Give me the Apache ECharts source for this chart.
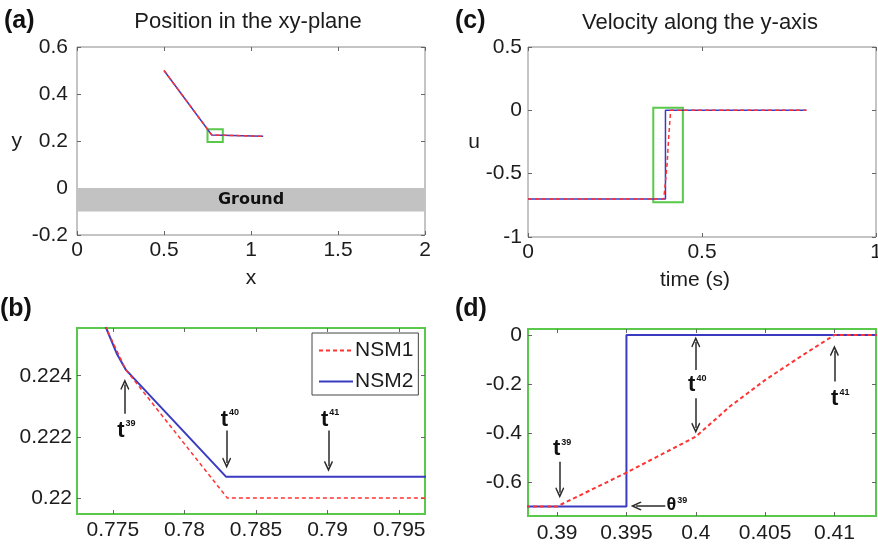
<!DOCTYPE html>
<html>
<head>
<meta charset="utf-8">
<script src="https://cdn.jsdelivr.net/npm/echarts@6/dist/echarts.min.js"></script>
<style>
  html, body { margin: 0; padding: 0; background: #fff; }
  #chart { width: 878px; height: 545px; }
</style>
</head>
<body>
<div id="chart"></div>
<script>
  // position in the xy-plane, panels (a) and (b)
  const posX_NSM1 = [0.5, 0.7745, 0.7759, 0.7830, 1.07];
  const posY_NSM1 = [0.5, 0.2256, 0.2242, 0.2200, 0.2200];
  const posX_NSM2 = [0.5, 0.7745, 0.7753, 0.7759, 0.7829, 1.07];
  const posY_NSM2 = [0.5, 0.2256, 0.2247, 0.2242, 0.2207, 0.2207];

  // velocity along the y-axis, panels (c) and (d)
  const velT_NSM1 = [0, 0.39, 0.395, 0.4, 0.4025, 0.405, 0.4075, 0.41, 0.8];
  const velU_NSM1 = [-0.7, -0.7, -0.562, -0.415, -0.29, -0.184, -0.09, 0, 0];
  const velT_NSM2 = [0, 0.395, 0.395, 0.8];
  const velU_NSM2 = [-0.7, -0.7, 0, 0];

  // tick labels
  const ticksAx = [0, 0.5, 1, 1.5, 2];
  const ticksAy = [-0.2, 0, 0.2, 0.4, 0.6];
  const ticksBx = [0.775, 0.78, 0.785, 0.79, 0.795];
  const ticksBy = [0.22, 0.222, 0.224];
  const ticksCx = [0, 0.5, 1];
  const ticksCy = [-1, -0.5, 0, 0.5];
  const ticksDx = [0.39, 0.395, 0.4, 0.405, 0.41];
  const ticksDy = [-0.6, -0.4, -0.2, 0];

  const FONT = 'Liberation Sans, Arial, sans-serif';
  const GRAY = '#8a8a8a';
  const GREEN = '#5ac84a';
  const RED = '#ff3333';
  const BLUE = '#3b3bc2';
  const INK = '#1c1c1c';
  const ARROW = 'path://M5,0 L10,9 L8.9,10 L5,3.4 L1.1,10 L0,9 Z';

  const pts = (xs, ys) => xs.map((x, i) => [x, ys[i]]);

  function axis(gridIndex, position, min, max, ticks, margin) {
    return {
      type: 'value', gridIndex, position, min, max,
      axisLine: { show: false, onZero: false },
      splitLine: { show: false },
      axisTick: { show: true, inside: true, length: 4, customValues: ticks, lineStyle: { color: '#666' } },
      axisLabel: {
        show: margin != null, customValues: ticks, margin: margin || 0,
        color: INK, fontSize: 21, fontFamily: FONT
      }
    };
  }

  function arrow(x1, y1, x2, y2) {
    return [{ coord: [x1, y1], symbol: 'none' }, { coord: [x2, y2], symbol: ARROW, symbolSize: [9, 11] }];
  }
  function tag(x, y, text) {
    return { coord: [x, y], label: { formatter: text } };
  }
  const marks = (lines, tags) => ({
    markLine: {
      silent: true, animation: false, label: { show: false },
      lineStyle: { color: '#2a2a2a', width: 1.5, type: 'solid' },
      data: lines
    },
    markPoint: {
      silent: true, animation: false, symbol: 'circle', symbolSize: 1,
      itemStyle: { color: 'rgba(0,0,0,0)' },
      label: {
        show: true, position: 'inside', color: '#111', fontFamily: FONT,
        rich: {
          t: { fontSize: 22, fontWeight: 'bold', fontFamily: FONT, color: '#111' },
          h: { fontSize: 18, fontWeight: 'bold', fontFamily: FONT, color: '#111' },
          s: { fontSize: 9, fontWeight: 'bold', fontFamily: FONT, color: '#111', verticalAlign: 'top', padding: [0, 0, 0, 1] }
        }
      },
      data: tags
    }
  });
  const greenBox = (x1, y1, x2, y2) => ({
    silent: true,
    itemStyle: { color: 'rgba(0,0,0,0)', borderColor: GREEN, borderWidth: 2 },
    data: [[{ xAxis: x1, yAxis: y1 }, { xAxis: x2, yAxis: y2 }]]
  });

  const redLine = (width) => ({ color: RED, width, type: [4, 3] });
  const blueLine = (width) => ({ color: BLUE, width });

  const gridBase = { show: true, containLabel: false, outerBoundsMode: 'none', backgroundColor: 'transparent' };

  const option = {
    animation: false,
    textStyle: { fontFamily: FONT },
    grid: [
      Object.assign({ left: 77, top: 47, width: 348, height: 188, borderColor: GRAY, borderWidth: 1 }, gridBase),
      Object.assign({ left: 77, top: 328, width: 348, height: 186, borderColor: GREEN, borderWidth: 2 }, gridBase),
      Object.assign({ left: 528, top: 47, width: 348, height: 190, borderColor: GRAY, borderWidth: 1 }, gridBase),
      Object.assign({ left: 528, top: 329, width: 348, height: 187, borderColor: GREEN, borderWidth: 2 }, gridBase)
    ],
    xAxis: [
      Object.assign(axis(0, 'bottom', 0, 2, ticksAx, 5), {
        name: 'x', nameLocation: 'middle', nameGap: 33,
        nameTextStyle: { fontSize: 21, color: INK, fontFamily: FONT }
      }),
      axis(1, 'bottom', 0.7725, 0.7968, ticksBx, 6),
      Object.assign(axis(2, 'bottom', 0, 1, ticksCx, 5), {
        name: 'time (s)', nameLocation: 'middle', nameGap: 33,
        nameTextStyle: { fontSize: 21, color: INK, fontFamily: FONT, padding: [0, 14, 0, 0] }
      }),
      axis(3, 'bottom', 0.3879, 0.413, ticksDx, 7),
      axis(0, 'top', 0, 2, ticksAx),
      axis(1, 'top', 0.7725, 0.7968, ticksBx),
      axis(2, 'top', 0, 1, ticksCx),
      axis(3, 'top', 0.3879, 0.413, ticksDx)
    ],
    yAxis: [
      Object.assign(axis(0, 'left', -0.2, 0.6, ticksAy, 9), {
        name: 'y', nameLocation: 'middle', nameRotate: 0, nameGap: 55,
        nameTextStyle: { fontSize: 21, color: INK, fontFamily: FONT }
      }),
      axis(1, 'left', 0.21948, 0.22556, ticksBy, 5),
      Object.assign(axis(2, 'left', -1, 0.5, ticksCy, 6), {
        name: 'u', nameLocation: 'middle', nameRotate: 0, nameGap: 48,
        nameTextStyle: { fontSize: 21, color: INK, fontFamily: FONT }
      }),
      axis(3, 'left', -0.739, 0.0245, ticksDy, 6),
      axis(0, 'right', -0.2, 0.6, ticksAy),
      axis(1, 'right', 0.21948, 0.22556, ticksBy),
      axis(2, 'right', -1, 0.5, ticksCy),
      axis(3, 'right', -0.739, 0.0245, ticksDy)
    ],
    legend: {
      data: ['NSM1', 'NSM2'],
      orient: 'vertical',
      left: 312, top: 333,
      padding: [7, 5, 3, 6],
      itemGap: 10, itemWidth: 34, itemHeight: 12,
      itemStyle: { opacity: 0 },
      backgroundColor: '#fff',
      borderColor: '#444', borderWidth: 1,
      textStyle: { fontSize: 21, color: INK, fontFamily: FONT, padding: [0, 0, 0, -3] }
    },
    series: [
      // (a)
      {
        name: 'NSM2', type: 'line', xAxisIndex: 0, yAxisIndex: 0, symbol: 'none',
        itemStyle: { color: BLUE },
        lineStyle: blueLine(1.5), data: pts(posX_NSM2, posY_NSM2),
        markArea: {
          silent: true,
          itemStyle: { color: '#c2c2c2' },
          label: { show: true, position: 'inside', color: '#111', fontSize: 16, fontWeight: 'bold', fontFamily: 'DejaVu Sans, sans-serif' },
          data: [[{ name: 'Ground', xAxis: 0, yAxis: 0 }, { xAxis: 2, yAxis: -0.1 }]]
        }
      },
      {
        name: 'NSM1', type: 'line', xAxisIndex: 0, yAxisIndex: 0, symbol: 'none',
        itemStyle: { color: RED },
        lineStyle: redLine(1.5), data: pts(posX_NSM1, posY_NSM1),
        markArea: greenBox(0.75, 0.196, 0.838, 0.25)
      },
      // (b)
      Object.assign({
        name: 'NSM2', type: 'line', xAxisIndex: 1, yAxisIndex: 1, symbol: 'none',
        itemStyle: { color: BLUE },
        lineStyle: blueLine(2), data: pts(posX_NSM2, posY_NSM2)
      }, marks([
        arrow(0.77584, 0.22276, 0.77584, 0.22371),
        arrow(0.78295, 0.22221, 0.78295, 0.22115),
        arrow(0.79006, 0.22221, 0.79006, 0.22104)
      ], [
        tag(0.77595, 0.22221, '{t|t}{s|39}'),
        tag(0.78318, 0.22257, '{t|t}{s|40}'),
        tag(0.79017, 0.22257, '{t|t}{s|41}')
      ])),
      {
        name: 'NSM1', type: 'line', xAxisIndex: 1, yAxisIndex: 1, symbol: 'none',
        itemStyle: { color: RED },
        lineStyle: redLine(1.5), data: pts(posX_NSM1, posY_NSM1)
      },
      // (c)
      {
        name: 'NSM2', type: 'line', xAxisIndex: 2, yAxisIndex: 2, symbol: 'none',
        itemStyle: { color: BLUE },
        lineStyle: blueLine(1.5), data: pts(velT_NSM2, velU_NSM2)
      },
      {
        name: 'NSM1', type: 'line', xAxisIndex: 2, yAxisIndex: 2, symbol: 'none',
        itemStyle: { color: RED },
        lineStyle: redLine(1.5), data: pts(velT_NSM1, velU_NSM1),
        markArea: greenBox(0.36, -0.725, 0.445, 0.021)
      },
      // (d)
      Object.assign({
        name: 'NSM2', type: 'line', xAxisIndex: 3, yAxisIndex: 3, symbol: 'none',
        itemStyle: { color: BLUE },
        lineStyle: blueLine(2), data: pts(velT_NSM2, velU_NSM2)
      }, marks([
        arrow(0.39019, -0.517, 0.39019, -0.644),
        arrow(0.3978, -0.698, 0.3957, -0.698),
        arrow(0.4, -0.143, 0.4, -0.029),
        arrow(0.4, -0.258, 0.4, -0.38),
        arrow(0.41, -0.19, 0.41, -0.064)
      ], [
        tag(0.39036, -0.465, '{t|t}{s|39}'),
        tag(0.39864, -0.694, '{h|θ}{s|39}'),
        tag(0.40011, -0.204, '{t|t}{s|40}'),
        tag(0.41042, -0.261, '{t|t}{s|41}')
      ])),
      {
        name: 'NSM1', type: 'line', xAxisIndex: 3, yAxisIndex: 3, symbol: 'none',
        itemStyle: { color: RED },
        lineStyle: redLine(2), data: pts(velT_NSM1, velU_NSM1)
      }
    ],
    graphic: [
      { type: 'text', x: 248, y: 22, style: { text: 'Position in the xy-plane', fill: INK, font: '22px ' + FONT, align: 'center', verticalAlign: 'middle' } },
      { type: 'text', x: 700, y: 23, style: { text: 'Velocity along the y-axis', fill: INK, font: '22px ' + FONT, align: 'center', verticalAlign: 'middle' } },
      { type: 'text', x: 4, y: 21, style: { text: '(a)', fill: '#111', font: 'bold 25px ' + FONT, align: 'left', verticalAlign: 'middle' } },
      { type: 'text', x: 455, y: 21, style: { text: '(c)', fill: '#111', font: 'bold 25px ' + FONT, align: 'left', verticalAlign: 'middle' } },
      { type: 'text', x: 0, y: 309, style: { text: '(b)', fill: '#111', font: 'bold 25px ' + FONT, align: 'left', verticalAlign: 'middle' } },
      { type: 'text', x: 455, y: 309, style: { text: '(d)', fill: '#111', font: 'bold 25px ' + FONT, align: 'left', verticalAlign: 'middle' } }
    ]
  };

  const myChart = echarts.init(document.getElementById('chart'));
  myChart.setOption(option);
  window.addEventListener('resize', () => {
    myChart.resize();
  });
</script>
</body>
</html>
